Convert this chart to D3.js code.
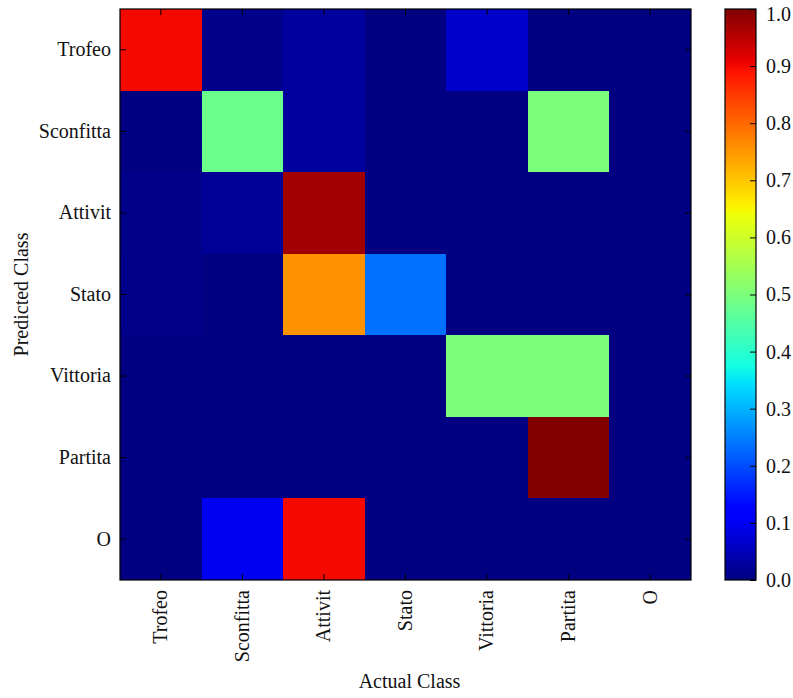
<!DOCTYPE html>
<html><head><meta charset="utf-8">
<script src="https://cdn.jsdelivr.net/npm/d3@7"></script>
<style>body{margin:0;background:#fff}text{font-family:"Liberation Serif","DejaVu Serif",serif;fill:#111}</style>
</head><body><svg id="c" width="793" height="698"></svg>
<script>
const predicted = ["Trofeo","Sconfitta","Attivit","Stato","Vittoria","Partita","O"];
const actual = ["Trofeo","Sconfitta","Attivit","Stato","Vittoria","Partita","O"];
// rows = predicted class, columns = actual class
const values = [
  [0.90, 0.010, 0.025, 0.0, 0.065, 0.0, 0.0],
  [0.0, 0.48, 0.025, 0.0, 0.0, 0.50, 0.0],
  [0.008, 0.02, 0.97, 0.0, 0.0, 0.0, 0.0],
  [0.01, 0.0, 0.755, 0.235, 0.0, 0.0, 0.0],
  [0.0, 0.0, 0.0, 0.0, 0.50, 0.50, 0.0],
  [0.0, 0.0, 0.0, 0.0, 0.0, 1.0, 0.0],
  [0.0, 0.10, 0.90, 0.0, 0.0, 0.0, 0.0]
];
const cbTicks = [0,0.1,0.2,0.3,0.4,0.5,0.6,0.7,0.8,0.9,1.0];

function seg(pts, v){
  for(let i=1;i<pts.length;i++){
    if(v<=pts[i][0]){const [x0,y0]=pts[i-1],[x1,y1]=pts[i];return y0+(y1-y0)*(v-x0)/(x1-x0);}
  }
  return pts[pts.length-1][1];
}
const R=[[0,0],[0.35,0],[0.66,1],[0.89,1],[1,0.5]];
const G=[[0,0],[0.125,0],[0.375,1],[0.64,1],[0.91,0],[1,0]];
const B=[[0,0.5],[0.11,1],[0.34,1],[0.65,0],[1,0]];
function jet(v){v=Math.max(0,Math.min(1,v));return d3.rgb(255*seg(R,v),255*seg(G,v),255*seg(B,v)).formatHex();}

const svg=d3.select("#c");
const L=120,T=9,W=571,H=571;
const x=d3.scaleBand().domain(actual).range([L,L+W]);
const y=d3.scaleBand().domain(predicted).range([T,T+H]);
const cells=[];
values.forEach((row,i)=>row.forEach((v,j)=>cells.push({r:predicted[i],c:actual[j],v})));
svg.append("g").attr("shape-rendering","crispEdges").selectAll("rect").data(cells).join("rect")
  .attr("x",d=>Math.round(x(d.c))).attr("y",d=>Math.round(y(d.r)))
  .attr("width",d=>Math.round(x(d.c)+x.bandwidth())-Math.round(x(d.c)))
  .attr("height",d=>Math.round(y(d.r)+y.bandwidth())-Math.round(y(d.r)))
  .attr("fill",d=>jet(d.v));

const fs=20;
// axes with inward ticks
const gl=svg.append("g").attr("transform",`translate(${L},0)`).call(d3.axisLeft(y).tickSize(-6).tickPadding(9));
const gb=svg.append("g").attr("transform",`translate(0,${T+H})`).call(d3.axisBottom(x).tickSize(-6).tickPadding(10));
const gt=svg.append("g").attr("transform",`translate(0,${T})`).call(d3.axisTop(x).tickSize(-6).tickFormat(""));
const gr=svg.append("g").attr("transform",`translate(${L+W},0)`).call(d3.axisRight(y).tickSize(-6).tickFormat(""));
[gl,gb,gt,gr].forEach(g=>{g.select(".domain").remove();g.selectAll("line").attr("stroke","#000").attr("stroke-width",1);g.selectAll("text").attr("font-size",fs);});
gb.selectAll("text").attr("transform","rotate(-90)").attr("text-anchor","end").attr("dy","0.32em").attr("x",-10).attr("y",0);
svg.append("rect").attr("x",L).attr("y",T).attr("width",W).attr("height",H).attr("fill","none").attr("stroke","#000").attr("stroke-width",1.2);

svg.append("text").attr("x",L+W/2+4).attr("y",688).attr("text-anchor","middle").attr("font-size",fs).text("Actual Class");
svg.append("text").attr("transform",`translate(28,${T+H/2}) rotate(-90)`).attr("text-anchor","middle").attr("font-size",fs).text("Predicted Class");

// colorbar
const CX=725,CW=31;
const defs=svg.append("defs");
const grad=defs.append("linearGradient").attr("id","jet").attr("x1",0).attr("y1",1).attr("x2",0).attr("y2",0);
d3.range(0,1.0001,0.01).forEach(t=>grad.append("stop").attr("offset",t).attr("stop-color",jet(t)));
const cy=d3.scaleLinear().domain([0,1]).range([T+H,T]);
svg.append("rect").attr("x",CX).attr("y",T).attr("width",CW).attr("height",H).attr("fill","url(#jet)");
const gc=svg.append("g").attr("transform",`translate(${CX+CW},0)`).call(d3.axisRight(cy).tickValues(cbTicks).tickFormat(d3.format(".1f")).tickSize(-6).tickPadding(10));
gc.select(".domain").remove();
gc.selectAll("line").attr("stroke","#000");
gc.selectAll("text").attr("font-size",fs).attr("dy",d=>d===1?"0.55em":"0.32em");
svg.append("rect").attr("x",CX).attr("y",T).attr("width",CW).attr("height",H).attr("fill","none").attr("stroke","#000").attr("stroke-width",1.2);
</script></body></html>
